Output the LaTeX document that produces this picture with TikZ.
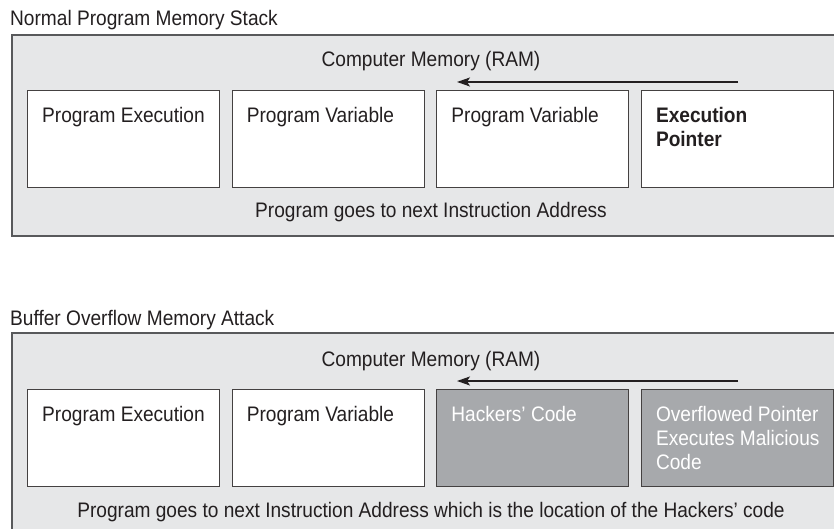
\documentclass[tikz,border=0pt]{standalone}
\usepackage{fontspec}
\setmainfont[FakeStretch=0.91]{Liberation Sans}
\usetikzlibrary{positioning,arrows.meta}

\definecolor{ink}{HTML}{231F20}
\definecolor{panelfill}{HTML}{E6E7E8}
\definecolor{panelline}{HTML}{58595B}
\definecolor{hackfill}{HTML}{A7A9AC}

\tikzset{
    txt/.style={font=\fontsize{21}{24}\selectfont, text=ink, inner sep=0pt},
    panel/.style={draw=panelline, line width=1.6pt, fill=panelfill,
        minimum width=840pt, inner sep=0pt, anchor=north west},
    cell/.style={draw=ink!85, line width=1.1pt, fill=white,
        minimum width=192pt, minimum height=97pt, inner sep=0pt},
    hackcell/.style={cell, fill=hackfill},
    celltext/.style={txt, align=left, anchor=north west},
    flow/.style={draw=ink, line width=1.4pt,
        -{Stealth[length=13pt, width=9pt, inset=3pt]}},
}

\begin{document}
\begin{tikzpicture}[x=1pt, y=-1pt]
    \clip (0,0) rectangle (834,529);
    \fill[white] (0,0) rectangle (834,529);

    % Normal Program Memory Stack
    \node[txt, anchor=base west] (title1) at (10,25.7) {Normal Program Memory Stack};
    \node[panel, minimum height=201pt] (ram1) at (11,34) {};
    \node[txt, anchor=base] (ramlbl1) at (431,67) {Computer Memory (RAM)};

    \node[cell, anchor=north west] (exec1) at (27,90) {};
    \node[cell, right=11.5pt of exec1] (var1) {};
    \node[cell, right=11.5pt of var1] (var2) {};
    \node[cell, right=11.5pt of var2] (ptr1) {};
    \node[celltext] (exec1t) at ([shift={(15,17)}]exec1.north west) {Program Execution};
    \node[celltext] (var1t) at ([shift={(15,17)}]var1.north west) {Program Variable};
    \node[celltext] (var2t) at ([shift={(15,17)}]var2.north west) {Program Variable};
    \node[celltext, font=\fontsize{21}{24}\selectfont\bfseries] (ptr1t)
        at ([shift={(15,17)}]ptr1.north west) {Execution\\Pointer};

    \coordinate (go1) at (738,82);
    \coordinate (to1) at (457,82);
    \draw[flow] (go1) -- (to1);

    \node[txt, anchor=base] (next1) at (431,218) {Program goes to next Instruction Address};

    % Buffer Overflow Memory Attack
    \node[txt, anchor=base west] (title2) at (10,325.7) {Buffer Overflow Memory Attack};
    \node[panel, minimum height=220pt] (ram2) at (11,332) {};
    \node[txt, anchor=base] (ramlbl2) at (431,366) {Computer Memory (RAM)};

    \node[cell, anchor=north west] (exec2) at (27,389) {};
    \node[cell, right=11.5pt of exec2] (var3) {};
    \node[hackcell, right=11.5pt of var3] (hack) {};
    \node[hackcell, right=11.5pt of hack] (ptr2) {};
    \node[celltext] (exec2t) at ([shift={(15,17)}]exec2.north west) {Program Execution};
    \node[celltext] (var3t) at ([shift={(15,17)}]var3.north west) {Program Variable};
    \node[celltext, text=white] (hackt) at ([shift={(15,17)}]hack.north west) {Hackers’ Code};
    \node[celltext, text=white] (ptr2t) at ([shift={(15,17)}]ptr2.north west)
        {Overflowed Pointer\\Executes Malicious\\Code};

    \coordinate (go2) at (738,381);
    \coordinate (to2) at (457,381);
    \draw[flow] (go2) -- (to2);

    \node[txt, anchor=base] (next2) at (431,517)
        {Program goes to next Instruction Address which is the location of the Hackers’ code};
\end{tikzpicture}
\end{document}
